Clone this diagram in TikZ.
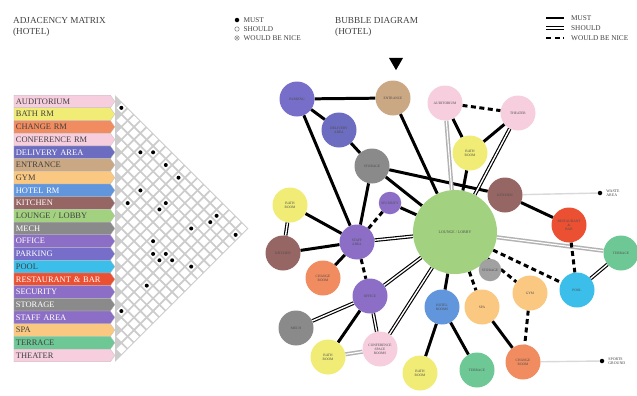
\documentclass[tikz,border=0pt]{standalone}
\usepackage{fontspec}
\setmainfont{Liberation Serif}
\usetikzlibrary{shapes.geometric, shapes.symbols, positioning, backgrounds}

\definecolor{cPink}{RGB}{246,206,222}
\definecolor{cYellow}{RGB}{240,236,118}
\definecolor{cOrange}{RGB}{240,140,95}
\definecolor{cDelivery}{RGB}{108,108,192}
\definecolor{cTan}{RGB}{202,168,132}
\definecolor{cLtOrange}{RGB}{250,200,128}
\definecolor{cBlue}{RGB}{98,150,220}
\definecolor{cBrown}{RGB}{150,102,100}
\definecolor{cGreen}{RGB}{162,210,128}
\definecolor{cGray}{RGB}{138,138,138}
\definecolor{cPurple}{RGB}{140,110,198}
\definecolor{cParking}{RGB}{118,110,200}
\definecolor{cCyan}{RGB}{60,190,235}
\definecolor{cRed}{RGB}{236,80,50}
\definecolor{cTerrace}{RGB}{110,200,150}

\begin{document}
\begin{tikzpicture}[x=0.4mm, y=-0.4mm,
  rowlabel/.style={signal, signal to=east, signal pointer angle=110, draw=gray!50, line width=0.3pt, text width=37mm, align=left, inner xsep=0.8mm, inner ysep=0pt, minimum height=5.08mm, font=\fontsize{9.6}{10}\selectfont, text=black!75, anchor=east},
  title/.style={anchor=west, align=left, inner sep=0pt, font=\fontsize{10.5}{12.5}\selectfont, text=black!75},
  legtext/.style={anchor=west, inner sep=0pt, font=\fontsize{8.3}{8.5}\selectfont, text=black!75},
  bubble/.style={circle, minimum size=14mm, inner sep=0pt, align=center, font=\fontsize{4}{4.6}\selectfont, text=black!70},
  smallbubble/.style={bubble, minimum size=9mm},
  must/.style={line width=3.4pt, draw=black},
  should/.style={double=white, double distance=1.6pt, line width=1.3pt, draw=black},
  shouldgray/.style={should, line width=1.7pt, double distance=1.3pt, draw=gray!60},
  would/.style={line width=3.4pt, draw=black, dash pattern=on 2mm off 1.4mm},
  outside/.style={line width=1.6pt, draw=gray!30},
  enddot/.style={circle, fill=black, inner sep=0pt, minimum size=1.8mm}]

  \useasboundingbox (0,0) rectangle (637,395);

  % Titles and legends
  \node (adjTitle) [title] at (13,26.5) {ADJACENCY MATRIX\\(HOTEL)};
  \node (bubTitle) [title] at (335,26.5) {BUBBLE DIAGRAM\\(HOTEL)};

  \node (mustDot) [circle, fill=black, inner sep=0pt, minimum size=1.8mm] at (237,20) {};
  \node (shouldDot) [circle, draw=black!70, inner sep=0pt, minimum size=1.8mm] at (237,29) {};
  \node (wouldDot) [circle, draw=black!70, inner sep=0pt, minimum size=1.8mm] at (237,38) {};
  \fill[black!70] (wouldDot) circle (0.35mm);
  \node [legtext, right=1.6mm of mustDot] {MUST};
  \node [legtext, right=1.6mm of shouldDot] {SHOULD};
  \node [legtext, right=1.6mm of wouldDot] {WOULD BE NICE};

  \coordinate (mustA) at (546,18);   \coordinate (mustB) at (564,18);
  \coordinate (shouldA) at (546,28); \coordinate (shouldB) at (564,28);
  \coordinate (wouldA) at (546,38);  \coordinate (wouldB) at (564,38);
  \draw [must] (mustA) -- (mustB);
  \draw [should] (shouldA) -- (shouldB);
  \draw [would] (wouldA) -- (wouldB);
  \node [legtext] at (571,18) {MUST};
  \node [legtext] at (571,28) {SHOULD};
  \node [legtext] at (571,38) {WOULD BE NICE};

  \node (entryMark) [regular polygon, regular polygon sides=3, shape border rotate=180, fill=black, inner sep=0pt, minimum size=6.5mm] at (396,62) {};

  % Matrix grid
  \fill[gray!40] (115,95.15) -- (248.35,228.5) -- (115,361.85) -- cycle;
  \foreach \i in {0,...,19}{
    \pgfmathtruncatemacro\jfirst{\i+1}
    \foreach \j in {\jfirst,...,20}{
      \fill[white, shift={({115+6.35*(\j-\i)},{101.5+6.35*(\i+\j)})}] (-4.9,0) -- (0,-4.9) -- (4.9,0) -- (0,4.9) -- cycle;
    }
  }
  \foreach \i/\j in {0/1, 2/6, 1/7, 1/9, 1/11, 5/9, 7/9, 4/12, 5/12, 2/17, 1/17, 4/16, 1/20, 8/14, 9/15, 8/16, 9/16, 8/17, 7/19, 12/17, 16/17}
    \fill[black] ({115+6.35*(\j-\i)},{101.5+6.35*(\i+\j)}) circle (0.8mm);

  % Rows
  \node (rAudit) [rowlabel, fill=cPink] at (115,101.5) {AUDITORIUM};
  \node (rBath) [rowlabel, fill=cYellow] at (115,114.2) {BATH RM};
  \node (rChange) [rowlabel, fill=cOrange] at (115,126.9) {CHANGE RM};
  \node (rConf) [rowlabel, fill=cPink] at (115,139.6) {CONFERENCE RM};
  \node (rDeliv) [rowlabel, fill=cDelivery, text=white] at (115,152.3) {DELIVERY AREA};
  \node (rEntr) [rowlabel, fill=cTan] at (115,165) {ENTRANCE};
  \node (rGym) [rowlabel, fill=cLtOrange] at (115,177.7) {GYM};
  \node (rHotel) [rowlabel, fill=cBlue, text=white] at (115,190.4) {HOTEL RM};
  \node (rKitch) [rowlabel, fill=cBrown, text=white] at (115,203.1) {KITCHEN};
  \node (rLobby) [rowlabel, fill=cGreen] at (115,215.8) {LOUNGE / LOBBY};
  \node (rMech) [rowlabel, fill=cGray, text=white] at (115,228.5) {MECH};
  \node (rOffice) [rowlabel, fill=cPurple, text=white] at (115,241.2) {OFFICE};
  \node (rPark) [rowlabel, fill=cParking, text=white] at (115,253.9) {PARKING};
  \node (rPool) [rowlabel, fill=cCyan] at (115,266.6) {POOL};
  \node (rRest) [rowlabel, fill=cRed, text=white] at (115,279.3) {RESTAURANT \& BAR};
  \node (rSecur) [rowlabel, fill=cPurple, text=white] at (115,292) {SECURITY};
  \node (rStor) [rowlabel, fill=cGray, text=white] at (115,304.7) {STORAGE};
  \node (rStaff) [rowlabel, fill=cPurple, text=white] at (115,317.4) {STAFF AREA};
  \node (rSpa) [rowlabel, fill=cLtOrange] at (115,330.1) {SPA};
  \node (rTerr) [rowlabel, fill=cTerrace] at (115,342.8) {TERRACE};
  \node (rTheat) [rowlabel, fill=cPink] at (115,355.5) {THEATER};

  % Bubbles
  \node (parking) [bubble, fill=cParking] at (297,99) {PARKING};
  \node (entrance) [bubble, fill=cTan] at (393,98) {ENTRANCE};
  \node (delivery) [bubble, fill=cDelivery] at (339,130) {DELIVERY\\AREA};
  \node (storage) [bubble, fill=cGray] at (372,166) {STORAGE};
  \node (security) [smallbubble, fill=cPurple] at (390,203) {SECURITY};
  \node (bathA) [bubble, fill=cYellow] at (290,205) {BATH\\ROOM};
  \node (kitchenA) [bubble, fill=cBrown] at (283,253) {KITCHEN};
  \node (staff) [bubble, fill=cPurple] at (357,242) {STAFF\\AREA};
  \node (changeA) [bubble, fill=cOrange] at (323,278) {CHANGE\\ROOM};
  \node (office) [bubble, fill=cPurple] at (370,296) {OFFICE};
  \node (mech) [bubble, fill=cGray] at (296,328) {MECH};
  \node (bathB) [bubble, fill=cYellow] at (328,357) {BATH\\ROOM};
  \node (conf) [bubble, fill=cPink] at (380,349) {CONFERENCE\\SPACE\\ROOMS};
  \node (lobby) [bubble, fill=cGreen, minimum size=33.6mm, font=\fontsize{4.5}{5}\selectfont] at (455,232) {LOUNGE / LOBBY};
  \node (hotel) [bubble, fill=cBlue] at (442,307) {HOTEL\\ROOMS};
  \node (bathC) [bubble, fill=cYellow] at (420,373) {BATH\\ROOM};
  \node (terraceB) [bubble, fill=cTerrace] at (477,370) {TERRACE};
  \node (changeB) [bubble, fill=cOrange] at (523,362) {CHANGE\\ROOM};
  \node (spa) [bubble, fill=cLtOrange] at (482,307) {SPA};
  \node (gym) [bubble, fill=cLtOrange] at (530,293) {GYM};
  \node (pool) [bubble, fill=cCyan] at (577,290) {POOL};
  \node (storageB) [smallbubble, fill=cGray!80] at (490,270) {STORAGE};
  \node (restaurant) [bubble, fill=cRed] at (569,225) {RESTAURANT\\\&\\BAR};
  \node (terrace) [bubble, fill=cTerrace] at (621,253) {TERRACE};
  \node (kitchenB) [bubble, fill=cBrown] at (505,195) {KITCHEN};
  \node (bathD) [bubble, fill=cYellow] at (470,153) {BATH\\ROOM};
  \node (auditorium) [bubble, fill=cPink] at (445,103) {AUDITORIUM};
  \node (theater) [bubble, fill=cPink] at (518,113) {THEATER};

  \node (waste) [enddot] at (600,193) {};
  \node (wasteLabel) [legtext, align=left, font=\fontsize{4.5}{5}\selectfont, right=1.5mm of waste] {WASTE\\AREA};
  \node (sports) [enddot] at (602,361) {};
  \node (sportsLabel) [legtext, align=left, font=\fontsize{4.5}{5}\selectfont, right=1.5mm of sports] {SPORTS\\GROUND};

  % Connectors
  \begin{pgfonlayer}{background}
  \draw [must] (parking) -- (entrance);
  \draw [must] (parking) -- (delivery);
  \draw [must] (delivery) -- (storage);
  \draw [must] (parking) -- (staff);
  \draw [must] (entrance) -- (lobby);
  \draw [must] (storage) -- (lobby);
  \draw [must] (storage) -- (kitchenB);
  \draw [must] (storage) -- (staff);
  \draw [must] (security) -- (lobby);
  \draw [must] (bathA) -- (staff);
  \draw [must] (kitchenA) -- (staff);
  \draw [must] (changeA) -- (staff);
  \draw [must] (office) -- (bathB);
  \draw [must] (lobby) -- (hotel);
  \draw [must] (hotel) -- (bathC);
  \draw [must] (hotel) -- (terraceB);
  \draw [must] (kitchenB) -- (restaurant);
  \draw [must] (spa) -- (changeB);
  \draw [must] (auditorium) -- (bathD);
  \draw [must] (theater) -- (bathD);
  \draw [must] (bathD) -- (lobby);

  \draw [should] (bathA) -- (kitchenA);
  \draw [should] (staff) -- (lobby);
  \draw [should] (office) -- (lobby);
  \draw [should] (office) -- (mech);
  \draw [should] (office) -- (conf);
  \draw [should] (conf) -- (lobby);
  \draw [should] (lobby) -- (storageB);
  \draw [should] (pool) -- (terrace);
  \draw [should] (theater) -- (lobby);
  \draw [shouldgray] (auditorium) -- (lobby);
  \draw [shouldgray] (lobby) -- (terrace);
  \draw [shouldgray] (bathB) -- (conf);

  \draw [would] (security) -- (staff);
  \draw [would] (staff) -- (office);
  \draw [would] (lobby) -- (spa);
  \draw [would] (lobby) -- (gym);
  \draw [would] (lobby) -- (pool);
  \draw [would] (restaurant) -- (pool);
  \draw [would] (gym) -- (changeB);
  \draw [would] (auditorium) -- (theater);

  \draw [outside] (kitchenB) -- (waste);
  \draw [outside] (changeB) -- (sports);
  \end{pgfonlayer}
\end{tikzpicture}
\end{document}
